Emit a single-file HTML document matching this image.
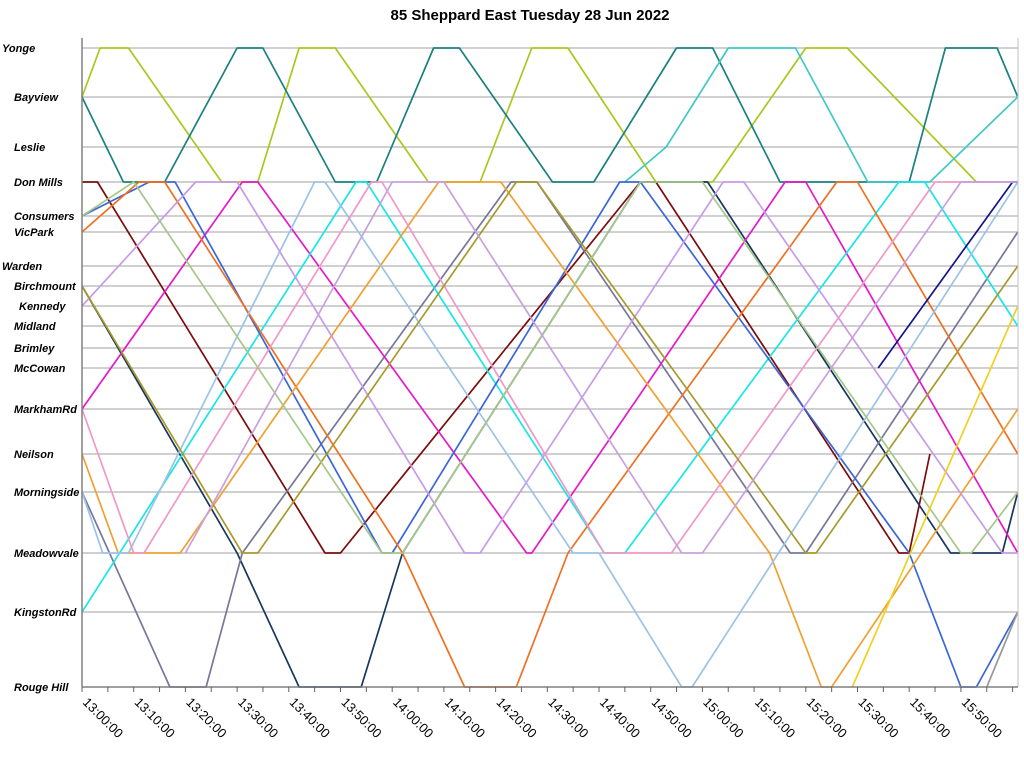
<!DOCTYPE html>
<html><head><meta charset="utf-8">
<style>
html,body{margin:0;padding:0;background:#fff;}
svg{display:block;font-family:"Liberation Sans",Arial,sans-serif;}
</style></head>
<body>
<svg id="chart" width="1024" height="764" viewBox="0 0 1024 764" xmlns="http://www.w3.org/2000/svg">
<text x="530" y="20" text-anchor="middle" font-size="15" font-weight="bold">85 Sheppard East Tuesday 28 Jun 2022</text>
<g id="grid"></g>
<g id="series"></g>
<g id="axes"></g>
</svg>
<script>
const stopNames = ["Yonge","Bayview","Leslie","Don Mills","Consumers","VicPark","Warden","Birchmount","Kennedy","Midland","Brimley","McCowan","MarkhamRd","Neilson","Morningside","Meadowvale","KingstonRd","Rouge Hill"];
const tickLabels = ["13:00:00","13:10:00","13:20:00","13:30:00","13:40:00","13:50:00","14:00:00","14:10:00","14:20:00","14:30:00","14:40:00","14:50:00","15:00:00","15:10:00","15:20:00","15:30:00","15:40:00","15:50:00"];
const tickMinutes = [0,10,20,30,40,50,60,70,80,90,100,110,120,130,140,150,160,170];

const vehicleColors = ["#a8c81e","#1a8080","#40c8c8","#7b0c0c","#17375e","#76779a","#e619c8","#19e6e6","#3a66d8","#f07020","#f0a030","#9cc3e6","#c89be6","#f098c8","#a89a2a","#a6c78a","#14148a","#f0d020","#999999","#c8a0e0"];
const vehicleTimes = [
 [0,3.5,9,27,34,42,49,67,77,87,94,111,122,140,148,173,181],
 [0,8,16,30,35,49,57,68,73,91,99,115,122,135,160,167,177,181],
 [105,113,125,138,152,164,181],
 [0,3,47,50,108,111,158,160,164],
 [0,30,42,54,62,108,121,168,178,181],
 [0,17,24,31,83,88,137,140,181],
 [0,31,34,86,87,136,140,181],
 [0,53,55,101,105,158,163,181],
 [0,13,18,58,60,104,108,160,170,173,181],
 [0,11,16,62,74,84,94,146,150,181],
 [0,7,19,69,81,133,143,145,181],
 [0,4,9,45,47,95,100,116,118,181],
 [0,22,30,74,77,124,128,178,181],
 [0,10,12,56,58,101,114,165,181],
 [0,31,34,84,88,140,142,181],
 [0,10,58,62,108,120,170,172,181],
 [154,180,181],
 [149,181],
 [175,181],
 [20,60,70,116,120,170,181]
];
const vehicleStops = [
 [1,0,0,3,3,0,0,3,3,0,0,3,3,0,0,3,3],
 [1,3,3,0,0,3,3,0,0,3,3,0,0,3,3,0,0,1],
 [3,2,0,0,3,3,1],
 [3,3,15,15,3,3,15,15,13],
 [7,15,17,17,15,3,3,15,15,14],
 [14,17,17,15,3,3,15,15,5],
 [12,3,3,15,15,3,3,15],
 [16,3,3,15,15,3,3,9],
 [4,3,3,15,15,3,3,15,17,17,16],
 [5,3,3,15,17,17,15,3,3,13],
 [13,15,15,3,3,15,17,17,12],
 [14,15,15,3,3,15,15,17,17,3],
 [8,3,3,15,15,3,3,15,15],
 [12,15,15,3,3,15,15,3,3],
 [7,15,15,3,3,15,15,6],
 [4,3,15,15,3,3,15,15,14],
 [11,3,3],
 [17,8],
 [17,16],
 [15,3,3,15,15,3,3]
];

const stopY = [48,97,147,182,216,232,266,286,306,326,348,368,409,454,492,553,612,687];
const stopLabelX = [2,14,14,14,14,14,2,14,19,14,14,14,14,14,14,14,14,14];
const X0 = 82, X1 = 1018, PXMIN = 5.17;
function xScale(m){ return X0 + m*PXMIN; }
function yScale(s){ return stopY[s]; }
const NS = "http://www.w3.org/2000/svg";
const grid = document.getElementById('grid');
const axes = document.getElementById('axes');
const series = document.getElementById('series');

stopNames.forEach((n,i)=>{
  const l = document.createElementNS(NS,'line');
  l.setAttribute('x1',X0); l.setAttribute('x2',X1);
  l.setAttribute('y1',yScale(i)); l.setAttribute('y2',yScale(i));
  l.setAttribute('stroke','#a0a0a0'); l.setAttribute('stroke-width','1');
  
  
  grid.appendChild(l);
  const t = document.createElementNS(NS,'text');
  t.setAttribute('x',stopLabelX[i]); t.setAttribute('y',yScale(i)+4);
  t.setAttribute('font-size','11'); t.setAttribute('font-weight','bold'); t.setAttribute('font-style','italic');
  t.textContent = n;
  
  
  axes.appendChild(t);
});

vehicleTimes.forEach((ts,v)=>{
  const pts = ts.map((m,k)=>xScale(m).toFixed(1)+','+yScale(vehicleStops[v][k])).join(' ');
  const p = document.createElementNS(NS,'polyline');
  p.setAttribute('points',pts);
  p.setAttribute('fill','none');
  p.setAttribute('stroke',vehicleColors[v]);
  p.setAttribute('stroke-width','1.7');
  p.setAttribute('stroke-linejoin','round');
  
  
  series.appendChild(p);
});

// axis lines
const ya = document.createElementNS(NS,'line');
ya.setAttribute('x1',X0); ya.setAttribute('x2',X0); ya.setAttribute('y1',38); ya.setAttribute('y2',687);
ya.setAttribute('stroke','#808080'); ya.setAttribute('stroke-width','1.5');


axes.appendChild(ya);
const ra = document.createElementNS(NS,'line');
ra.setAttribute('x1',X1); ra.setAttribute('x2',X1); ra.setAttribute('y1',38); ra.setAttribute('y2',687);
ra.setAttribute('stroke','#c0c0c0'); ra.setAttribute('stroke-width','1');


axes.appendChild(ra);
const xa = document.createElementNS(NS,'line');
xa.setAttribute('x1',X0); xa.setAttribute('x2',X1); xa.setAttribute('y1',687); xa.setAttribute('y2',687);
xa.setAttribute('stroke','#808080'); xa.setAttribute('stroke-width','1.5');


axes.appendChild(xa);
for(let m=0;m<=180;m+=5){
  const tk = document.createElementNS(NS,'line');
  tk.setAttribute('x1',xScale(m)); tk.setAttribute('x2',xScale(m));
  tk.setAttribute('y1',687); tk.setAttribute('y2',692);
  tk.setAttribute('stroke','#606060'); tk.setAttribute('stroke-width','1');
  
  
  axes.appendChild(tk);
}
tickLabels.forEach((lab,i)=>{
  const x = xScale(tickMinutes[i]), y = 703;
  const t = document.createElementNS(NS,'text');
  t.setAttribute('x',x); t.setAttribute('y',y);
  t.setAttribute('font-size','13');
  t.setAttribute('transform','rotate(45 '+x+' '+y+')');
  t.textContent = lab;
  
  
  axes.appendChild(t);
});
</script>
</body></html>
